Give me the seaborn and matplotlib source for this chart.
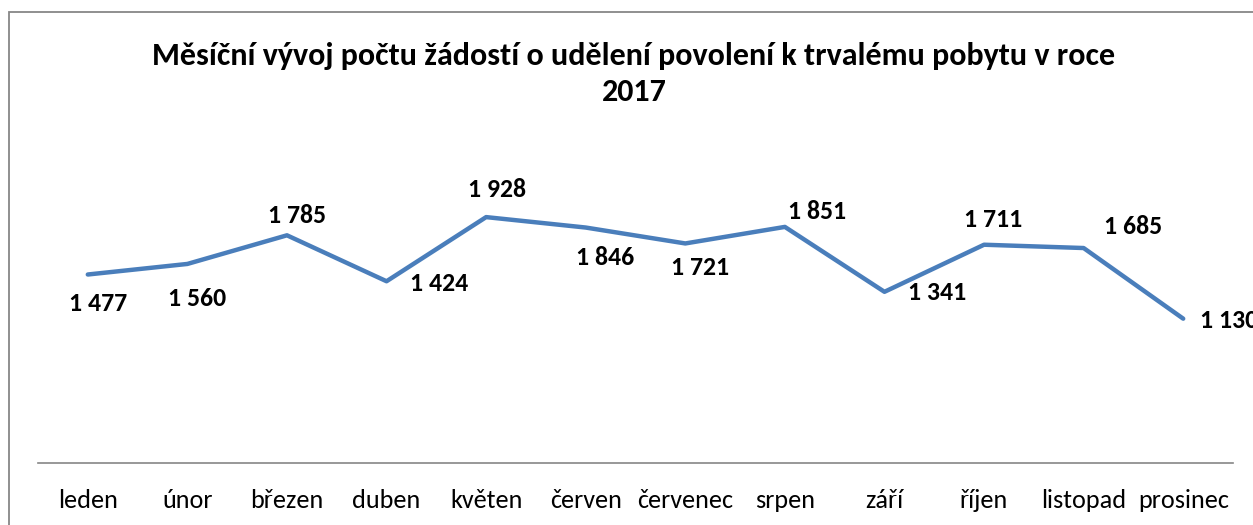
import matplotlib
matplotlib.use("Agg")
import matplotlib.pyplot as plt
import seaborn as sns
import pandas as pd
from matplotlib.patches import Rectangle
from matplotlib import font_manager

months = ["leden", "únor", "březen", "duben", "květen", "červen",
          "červenec", "srpen", "září", "říjen", "listopad", "prosinec"]
values = [1477, 1560, 1785, 1424, 1928, 1846, 1721, 1851, 1341, 1711, 1685, 1130]
labels = ["1 477", "1 560", "1 785", "1 424", "1 928", "1 846",
          "1 721", "1 851", "1 341", "1 711", "1 685", "1 130"]
title = "Měsíční vývoj počtu žádostí o udělení povolení k trvalému pobytu v roce\n2017"

# label offsets (pixels) relative to the point
offsets = [(10, -29), (10, -35), (10, 20), (53, -2), (11, 28), (19, -30),
           (15, -24), (32, 15), (53, -1), (9, 25), (49, 22), (46, -2)]

sns.set_theme(style="white")
avail = {f.name for f in font_manager.fontManager.ttflist}
fam = "Carlito" if "Carlito" in avail else "Lato"
plt.rcParams["font.family"] = [fam, "DejaVu Sans"]

W, H = 1253, 525
fig = plt.figure(figsize=(W / 100, H / 100), dpi=100)
fig.patch.set_facecolor("white")
ax = fig.add_axes([38 / W, 1 - 462.5 / H, 1195 / W, (462.5 - 144.3) / H])

df = pd.DataFrame({"month": months, "value": values})
sns.lineplot(data=df, x="month", y="value", ax=ax, color="#4A7EBB",
             linewidth=3.2, sort=False)
ax.set_xlim(-0.5, 11.5)
ax.set_ylim(0, 2500)
ax.set_xlabel("")
ax.set_ylabel("")
ax.set_yticks([])
ax.set_xticks(range(len(months)))
ax.set_xticklabels(months, fontsize=18.8, color="black")
ax.tick_params(axis="x", length=0, pad=19)
for s in ["top", "right", "left"]:
    ax.spines[s].set_visible(False)
ax.spines["bottom"].set_color("#868686")
ax.spines["bottom"].set_linewidth(1.2)
ax.patch.set_alpha(0)

for i, (v, lab) in enumerate(zip(values, labels)):
    dx, dy = offsets[i]
    ax.annotate(lab, (i, v), xytext=(dx, dy), textcoords="offset pixels",
                ha="center", va="center", fontsize=18.5, fontweight="bold",
                color="black", annotation_clip=False)

fig.text(634 / W, 1 - 74 / H, title, ha="center", va="center",
         fontsize=23, fontweight="bold", color="black", linespacing=1.32)

fig.patches.append(Rectangle((9 / W, -0.2), 2, 1.2 - 12 / H, transform=fig.transFigure,
                             fill=False, edgecolor="#878787", linewidth=1.3))

fig.savefig("out.png", dpi=100, facecolor="white")
